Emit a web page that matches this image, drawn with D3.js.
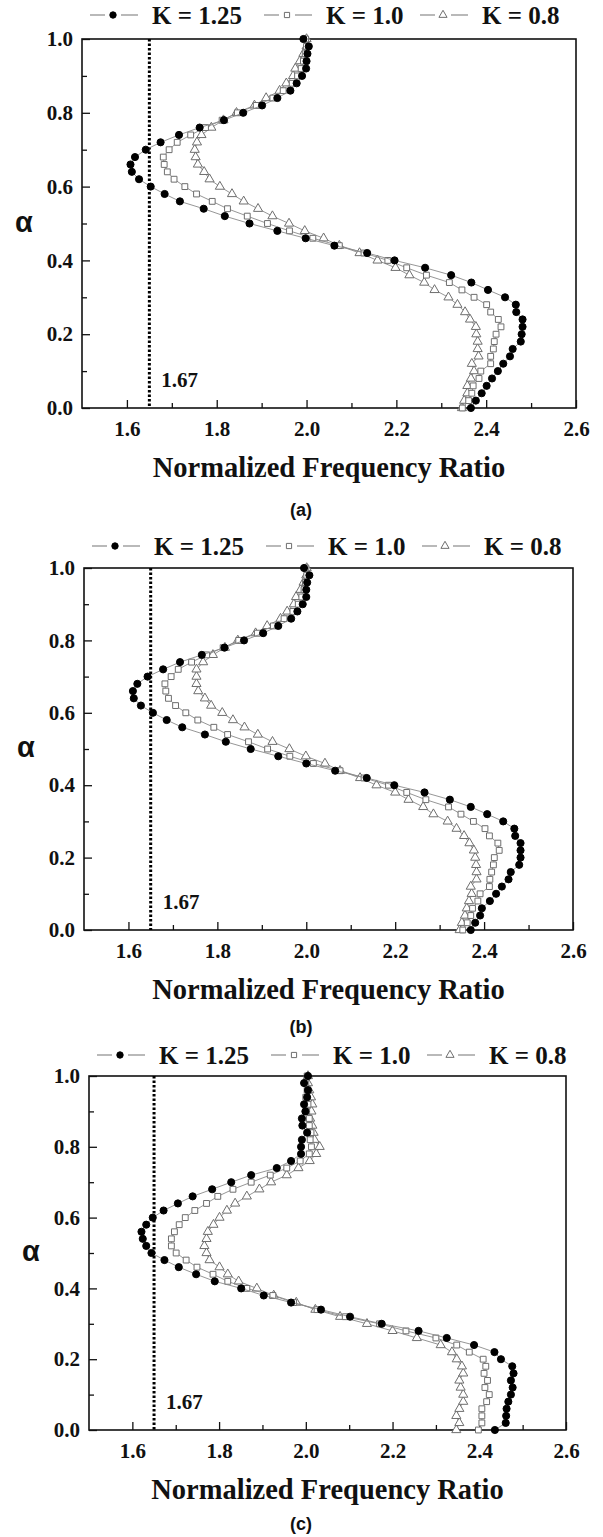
<!DOCTYPE html>
<html lang="en">
<head>
<meta charset="UTF-8">
<title>Normalized Frequency Ratio vs alpha</title>
<script src="https://d3js.org/d3.v7.min.js"></script>
<style>
    body { margin: 0; background: #fff; }
    svg { display: block; }
    .tick-label { font-family: "Liberation Serif", "Times New Roman", serif; font-weight: bold; font-size: 21px; fill: #111; }
    .axis-title { font-family: "Liberation Serif", "Times New Roman", serif; font-weight: bold; font-size: 28.5px; fill: #111; }
    .legend-text { font-family: "Liberation Serif", "Times New Roman", serif; font-weight: bold; font-size: 25px; fill: #111; }
    .note { font-family: "Liberation Serif", "Times New Roman", serif; font-weight: bold; font-size: 21px; fill: #111; }
    .alpha { font-family: "Liberation Sans", Arial, sans-serif; font-weight: bold; font-size: 29px; fill: #111; }
    .panel-label { font-family: "Liberation Sans", Arial, sans-serif; font-weight: bold; font-size: 18px; fill: #111; }
</style>
</head>
<body>
<svg id="chart" width="603" height="1537"></svg>
<script>
// alpha values (y) shared by every series
const alpha = [0.00, 0.02, 0.04, 0.06, 0.08, 0.10, 0.12, 0.14, 0.16, 0.18,
               0.20, 0.22, 0.24, 0.26, 0.28, 0.30, 0.32, 0.34, 0.36, 0.38,
               0.40, 0.42, 0.44, 0.46, 0.48, 0.50, 0.52, 0.54, 0.56, 0.58,
               0.60, 0.62, 0.64, 0.66, 0.68, 0.70, 0.72, 0.74, 0.76, 0.78,
               0.80, 0.82, 0.84, 0.86, 0.88, 0.90, 0.92, 0.94, 0.96, 0.98, 1.00];

const xTicks = [1.6, 1.8, 2.0, 2.2, 2.4, 2.6];
const xMinor = [1.7, 1.9, 2.1, 2.3, 2.5];
const yTicks = [0.0, 0.2, 0.4, 0.6, 0.8, 1.0];
const yMinor = [0.1, 0.3, 0.5, 0.7, 0.9];
const seriesNames = ["K = 1.25", "K = 1.0", "K = 0.8"];
const panelNames = ["(a)", "(b)", "(c)"];
const limitValue = 1.65;
const limitLabel = "1.67";

// panel (a)
const a125 = [2.366, 2.377, 2.390, 2.401, 2.413, 2.426, 2.438, 2.453, 2.459, 2.477,
              2.479, 2.481, 2.481, 2.467, 2.466, 2.442, 2.404, 2.367, 2.322, 2.264,
              2.196, 2.135, 2.062, 1.998, 1.935, 1.873, 1.818, 1.771, 1.718, 1.684,
              1.653, 1.627, 1.611, 1.608, 1.618, 1.642, 1.675, 1.716, 1.762, 1.816,
              1.859, 1.901, 1.935, 1.964, 1.978, 1.990, 1.999, 2.000, 2.002, 2.005, 1.993];
const a100 = [2.347, 2.361, 2.368, 2.371, 2.384, 2.388, 2.410, 2.410, 2.416, 2.418,
              2.422, 2.433, 2.427, 2.410, 2.401, 2.373, 2.346, 2.318, 2.267, 2.223,
              2.181, 2.128, 2.073, 2.014, 1.962, 1.913, 1.868, 1.824, 1.790, 1.755,
              1.729, 1.705, 1.690, 1.683, 1.681, 1.694, 1.712, 1.742, 1.775, 1.812,
              1.846, 1.888, 1.925, 1.948, 1.968, 1.980, 1.988, 1.993, 1.997, 2.000, 1.998];
const a080 = [2.346, 2.351, 2.358, 2.358, 2.366, 2.373, 2.368, 2.383, 2.381, 2.381,
              2.378, 2.377, 2.364, 2.353, 2.336, 2.316, 2.285, 2.262, 2.229, 2.198,
              2.158, 2.118, 2.073, 2.038, 1.996, 1.961, 1.924, 1.892, 1.860, 1.834,
              1.807, 1.784, 1.772, 1.758, 1.753, 1.751, 1.756, 1.766, 1.788, 1.815,
              1.844, 1.884, 1.910, 1.940, 1.955, 1.970, 1.975, 1.985, 1.993, 2.000, 2.000];

// panel (b)
const b125 = [2.370, 2.380, 2.391, 2.395, 2.413, 2.427, 2.440, 2.455, 2.460, 2.479,
              2.482, 2.482, 2.482, 2.470, 2.468, 2.443, 2.407, 2.370, 2.323, 2.266,
              2.198, 2.136, 2.065, 2.000, 1.937, 1.875, 1.819, 1.772, 1.721, 1.686,
              1.655, 1.628, 1.612, 1.610, 1.620, 1.643, 1.678, 1.716, 1.765, 1.816,
              1.860, 1.903, 1.937, 1.966, 1.980, 1.992, 2.000, 2.000, 2.002, 2.007, 1.995];
const b100 = [2.352, 2.362, 2.370, 2.374, 2.386, 2.391, 2.412, 2.413, 2.417, 2.421,
              2.423, 2.434, 2.431, 2.412, 2.402, 2.376, 2.348, 2.320, 2.269, 2.226,
              2.185, 2.130, 2.076, 2.016, 1.963, 1.913, 1.870, 1.823, 1.792, 1.756,
              1.729, 1.706, 1.690, 1.684, 1.682, 1.696, 1.712, 1.742, 1.776, 1.813,
              1.848, 1.890, 1.926, 1.950, 1.970, 1.982, 1.990, 1.995, 1.998, 2.001, 1.999];
const b080 = [2.345, 2.350, 2.357, 2.361, 2.366, 2.372, 2.370, 2.383, 2.383, 2.382,
              2.380, 2.377, 2.367, 2.355, 2.338, 2.318, 2.286, 2.263, 2.230, 2.200,
              2.158, 2.121, 2.076, 2.042, 1.999, 1.962, 1.924, 1.891, 1.861, 1.835,
              1.811, 1.786, 1.772, 1.757, 1.753, 1.753, 1.753, 1.768, 1.790, 1.817,
              1.846, 1.886, 1.912, 1.942, 1.957, 1.972, 1.977, 1.987, 1.994, 2.000, 2.001];

// panel (c)
const c125 = [2.436, 2.461, 2.462, 2.463, 2.467, 2.473, 2.477, 2.473, 2.479, 2.476,
              2.450, 2.435, 2.388, 2.325, 2.260, 2.175, 2.102, 2.035, 1.966, 1.903,
              1.851, 1.790, 1.747, 1.707, 1.674, 1.644, 1.632, 1.624, 1.621, 1.632,
              1.647, 1.672, 1.705, 1.739, 1.784, 1.828, 1.874, 1.933, 1.966, 1.989,
              1.989, 1.991, 2.003, 1.992, 1.991, 1.999, 1.996, 2.003, 2.005, 1.996, 2.005];
const c100 = [2.398, 2.406, 2.406, 2.406, 2.417, 2.423, 2.413, 2.419, 2.411, 2.415,
              2.409, 2.377, 2.348, 2.300, 2.231, 2.170, 2.091, 2.026, 1.972, 1.924,
              1.864, 1.820, 1.786, 1.749, 1.724, 1.701, 1.690, 1.690, 1.697, 1.708,
              1.722, 1.744, 1.771, 1.797, 1.832, 1.874, 1.918, 1.956, 1.987, 2.008,
              2.013, 2.010, 2.012, 2.008, 2.008, 2.002, 2.005, 2.000, 2.003, 2.000, 2.003];
const c080 = [2.347, 2.354, 2.347, 2.354, 2.363, 2.363, 2.357, 2.354, 2.363, 2.360,
              2.348, 2.337, 2.311, 2.256, 2.200, 2.141, 2.079, 2.022, 1.978, 1.926,
              1.887, 1.845, 1.820, 1.801, 1.778, 1.771, 1.766, 1.771, 1.774, 1.787,
              1.801, 1.818, 1.837, 1.864, 1.893, 1.920, 1.956, 1.983, 2.009, 2.024,
              2.032, 2.020, 2.018, 2.015, 2.010, 2.013, 2.015, 2.012, 2.008, 2.005, 2.005];

const panelSeries = [[a125, a100, a080], [b125, b100, b080], [c125, c100, c080]];

// plot boxes (pixels) for the three stacked panels
const boxes = [
    {left: 82, right: 576, top: 39,   bottom: 408,  legendY: 15,   labelY: 516},
    {left: 84, right: 573, top: 568,  bottom: 930,  legendY: 546,  labelY: 1033},
    {left: 89, right: 566, top: 1076, bottom: 1430, legendY: 1055, labelY: 1530}
];

const lineColor = "#8a8a8a";
const markers = [
    {type: d3.symbolCircle,   size: 40, fill: "#000", stroke: "#000"},
    {type: d3.symbolSquare,   size: 34, fill: "#fff", stroke: "#6e6e6e"},
    {type: d3.symbolTriangle, size: 36, fill: "#fff", stroke: "#6e6e6e"}
];
const legendOffsets = [31, 205, 361];

const svg = d3.select("#chart");
svg.append("rect").attr("width", 603).attr("height", 1537).attr("fill", "#fff");

boxes.forEach((b, p) => {
    const x = d3.scaleLinear().domain([1.5, 2.6]).range([b.left, b.right]);
    const y = d3.scaleLinear().domain([0, 1]).range([b.bottom, b.top]);
    const g = svg.append("g");

    // minor ticks
    g.append("g").attr("transform", `translate(0,${b.bottom})`)
        .call(d3.axisBottom(x).tickValues(xMinor).tickSizeInner(-5).tickSizeOuter(0).tickFormat(""))
        .call(s => s.select(".domain").remove());
    g.append("g").attr("transform", `translate(${b.left},0)`)
        .call(d3.axisLeft(y).tickValues(yMinor).tickSizeInner(-5).tickSizeOuter(0).tickFormat(""))
        .call(s => s.select(".domain").remove());

    // major ticks with labels
    g.append("g").attr("transform", `translate(0,${b.bottom})`)
        .call(d3.axisBottom(x).tickValues(xTicks).tickSizeInner(-8).tickSizeOuter(0)
            .tickPadding(13).tickFormat(d3.format(".1f")))
        .call(s => s.select(".domain").remove())
        .call(s => s.selectAll("text").attr("class", "tick-label").attr("font-family", null).attr("font-size", null));
    g.append("g").attr("transform", `translate(${b.left},0)`)
        .call(d3.axisLeft(y).tickValues(yTicks).tickSizeInner(-8).tickSizeOuter(0)
            .tickPadding(9).tickFormat(d3.format(".1f")))
        .call(s => s.select(".domain").remove())
        .call(s => s.selectAll("text").attr("class", "tick-label").attr("font-family", null).attr("font-size", null));
    g.selectAll(".tick line").attr("stroke", "#111").attr("stroke-width", 1.3);

    // frame
    g.append("rect")
        .attr("x", b.left).attr("y", b.top)
        .attr("width", b.right - b.left).attr("height", b.bottom - b.top)
        .attr("fill", "none").attr("stroke", "#111").attr("stroke-width", 1.6);

    // dotted limit line
    g.append("line")
        .attr("x1", x(limitValue)).attr("x2", x(limitValue))
        .attr("y1", y(1)).attr("y2", y(0))
        .attr("stroke", "#000").attr("stroke-width", 3)
        .attr("stroke-dasharray", "2.5,2");
    g.append("text").attr("class", "note")
        .attr("x", x(limitValue) + 12).attr("y", b.bottom - 21)
        .text(limitLabel);

    // series, drawn K = 0.8 first so the filled dots sit on top
    const line = d3.line().x(d => x(d[0])).y(d => y(d[1]));
    [2, 1, 0].forEach(i => {
        const pts = panelSeries[p][i].map((v, j) => [v, alpha[j]]);
        g.append("path").datum(pts)
            .attr("d", line).attr("fill", "none")
            .attr("stroke", lineColor).attr("stroke-width", 0.9);
        const m = markers[i];
        g.selectAll(null).data(pts).join("path")
            .attr("transform", d => `translate(${x(d[0])},${y(d[1])})`)
            .attr("d", d3.symbol().type(m.type).size(m.size))
            .attr("fill", m.fill).attr("stroke", m.stroke).attr("stroke-width", 1);
    });

    // legend
    seriesNames.forEach((name, i) => {
        const cx = b.left + legendOffsets[i];
        const cy = b.legendY;
        const m = markers[i];
        g.append("line").attr("x1", cx - 23).attr("x2", cx - 8).attr("y1", cy).attr("y2", cy)
            .attr("stroke", lineColor).attr("stroke-width", 1.2);
        g.append("line").attr("x1", cx + 8).attr("x2", cx + 25).attr("y1", cy).attr("y2", cy)
            .attr("stroke", lineColor).attr("stroke-width", 1.2);
        g.append("path").attr("transform", `translate(${cx},${cy})`)
            .attr("d", d3.symbol().type(m.type).size(m.size * 0.8))
            .attr("fill", m.fill).attr("stroke", m.stroke).attr("stroke-width", 1);
        g.append("text").attr("class", "legend-text")
            .attr("x", cx + 39).attr("y", cy + 9)
            .text(name);
    });

    // axis titles and panel label
    g.append("text").attr("class", "axis-title")
        .attr("x", (b.left + b.right) / 2).attr("y", b.bottom + 69)
        .attr("text-anchor", "middle")
        .text("Normalized Frequency Ratio");
    g.append("text").attr("class", "alpha")
        .attr("x", b.left - 67).attr("y", (b.top + b.bottom) / 2 + 8)
        .text("α");
    g.append("text").attr("class", "panel-label")
        .attr("x", 301).attr("y", b.labelY)
        .attr("text-anchor", "middle")
        .text(panelNames[p]);
});
</script>
</body>
</html>
